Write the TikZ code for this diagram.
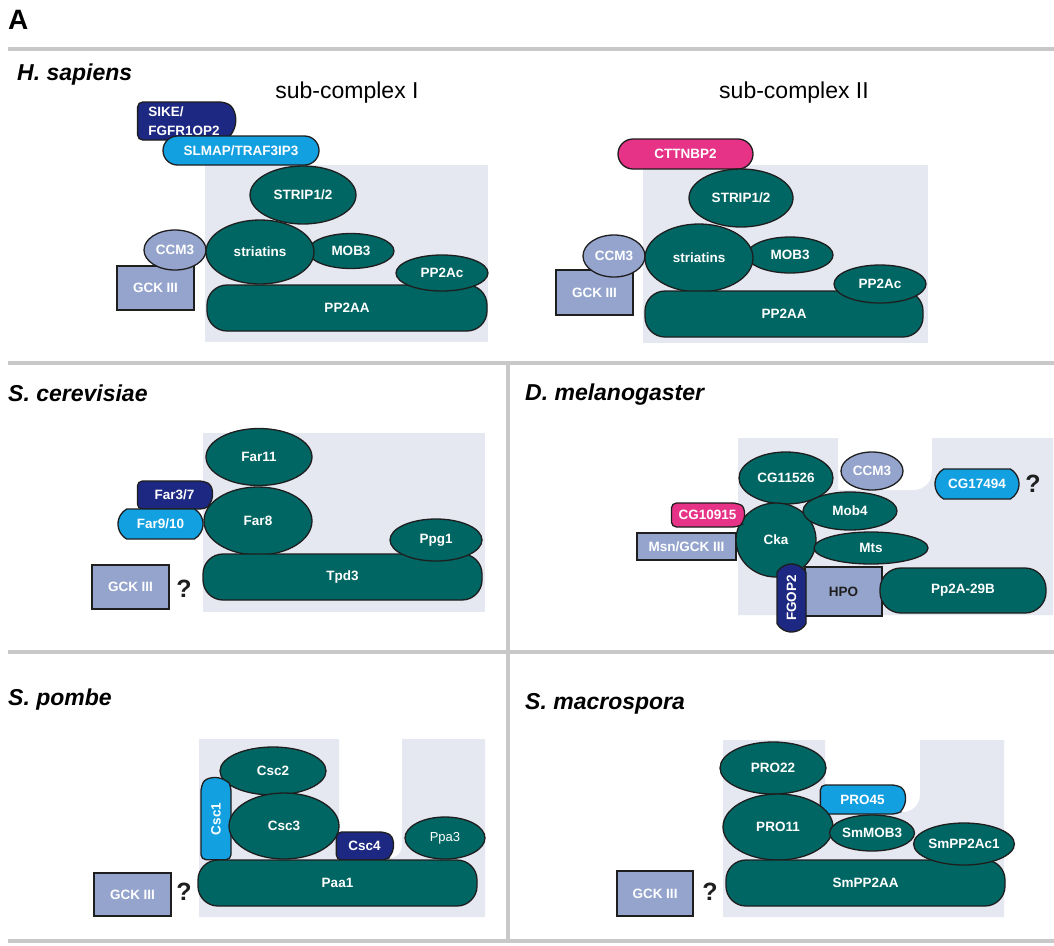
\documentclass[tikz,border=0pt]{standalone}
\usepackage{fontspec}
\setmainfont{Liberation Sans}
\usetikzlibrary{shapes.geometric,shapes.misc}
\definecolor{cTeal}{RGB}{0,102,99}
\definecolor{cNavy}{RGB}{28,40,130}
\definecolor{cSky}{RGB}{18,160,225}
\definecolor{cPink}{RGB}{230,50,135}
\definecolor{cSteel}{RGB}{148,164,204}
\definecolor{cBg}{RGB}{229,231,241}
\definecolor{cLine}{RGB}{200,200,200}
\definecolor{cOut}{RGB}{30,30,30}
\tikzset{
  prot/.style={draw=cOut, line width=1.3pt, text=white, font=\fontsize{13.5}{18.5}\selectfont\bfseries, inner sep=0pt, outer sep=0pt},
  te/.style={prot, ellipse, fill=cTeal},
  se/.style={prot, ellipse, fill=cSteel},
  bar/.style={prot, rectangle, fill=cTeal, rounded corners=20pt},
  gck/.style={prot, rectangle, fill=cSteel},
  stad/.style={prot, rounded rectangle},
  capr/.style={prot, rounded rectangle, rounded rectangle west arc=none, rounded rectangle arc length=120, rounded corners=5pt},
  twoarc/.style={prot, rounded rectangle, rounded rectangle arc length=120},
  qmark/.style={font=\fontsize{25}{28}\selectfont\bfseries, text=cOut, inner sep=0pt},
  species/.style={anchor=base west, font=\fontsize{23}{26}\selectfont\bfseries\itshape, inner sep=0pt},
  subc/.style={anchor=base, font=\fontsize{23}{26}\selectfont, inner sep=0pt},
  panel/.style={line width=4pt, cLine},
  bgarea/.style={fill=cBg}
}
\begin{document}
\begin{tikzpicture}[x=1pt,y=-1pt]
\useasboundingbox (0,0) rectangle (1054,945);
\fill[white] (0,0) rectangle (1054,945);

% panel lines
\draw[panel] (8,49) -- (1054,49);
\draw[panel] (8,363) -- (1054,363);
\draw[panel] (8,652) -- (1054,652);
\draw[panel] (8,941) -- (1054,941);
\draw[panel] (508,363) -- (508,941);

% titles
\node[anchor=base west, font=\fontsize{28}{30}\selectfont\bfseries, inner sep=0pt] (A) at (8,29) {A};
\node[species] (hs) at (17,80) {H. sapiens};
\node[subc] (sc1) at (347,98) {sub-complex I};
\node[subc] (sc2) at (794,98) {sub-complex II};
\node[species] (sce) at (8,401) {S. cerevisiae};
\node[species] (dm) at (525,400) {D. melanogaster};
\node[species] (sp) at (8,705) {S. pombe};
\node[species] (sm) at (525,709) {S. macrospora};

% ---------- sub-complex I ----------
\fill[bgarea] (205,165) rectangle (488,342);
\node[capr, fill=cNavy, minimum width=98, minimum height=38, align=left] (sike) at (184,121) {SIKE/\\FGFR1OP2};
\node[stad, fill=cSky, minimum width=156, minimum height=29] (slmap) at (241,150.5) {SLMAP/TRAF3IP3};
\node[gck, minimum width=77, minimum height=44] (gck1) at (155.5,288) {GCK III};
\node[se, minimum width=62, minimum height=40] (ccm1) at (175,250) {CCM3};
\node[te, minimum width=86, minimum height=35] (mob1) at (351,251) {MOB3};
\node[te, minimum width=108, minimum height=64] (str1) at (260,252) {striatins};
\node[te, minimum width=106, minimum height=58] (strip1) at (303,195) {STRIP1/2};
\node[bar, minimum width=280, minimum height=46] (aa1) at (347,308) {PP2AA};
\node[te, minimum width=92, minimum height=36] (ac1) at (442,273) {PP2Ac};

% ---------- sub-complex II ----------
\fill[bgarea] (643,165) rectangle (928,343);
\node[stad, fill=cPink, minimum width=135, minimum height=30] (cttn) at (685.5,154) {CTTNBP2};
\node[gck, minimum width=77, minimum height=45] (gck2) at (594.5,292.5) {GCK III};
\node[se, minimum width=62, minimum height=42] (ccm2) at (614,256) {CCM3};
\node[te, minimum width=86, minimum height=36] (mob2) at (790,255) {MOB3};
\node[te, minimum width=108, minimum height=68] (str2) at (699,258) {striatins};
\node[te, minimum width=104, minimum height=58] (strip2) at (741,198) {STRIP1/2};
\node[bar, minimum width=278, minimum height=46] (aa2) at (784,314) {PP2AA};
\node[te, minimum width=92, minimum height=38] (ac2) at (880,284) {PP2Ac};

% ---------- S. cerevisiae ----------
\fill[bgarea] (203,433) rectangle (485,612);
\node[capr, fill=cNavy, minimum width=75, minimum height=28] (far37) at (174.5,495) {Far3/7};
\node[twoarc, fill=cSky, minimum width=85, minimum height=30] (far910) at (160.5,524) {Far9/10};
\node[te, minimum width=106, minimum height=57] (far11) at (259,457) {Far11};
\node[te, minimum width=108, minimum height=68] (far8) at (258,521) {Far8};
\node[bar, minimum width=279, minimum height=46] (tpd3) at (342.5,577) {Tpd3};
\node[te, minimum width=92, minimum height=42] (ppg1) at (436,540) {Ppg1};
\node[gck, minimum width=77, minimum height=44] (gck3) at (130.5,587) {GCK III};
\node[qmark] (q3) at (184,589) {?};

% ---------- D. melanogaster ----------
\fill[bgarea] (738,438) -- (838,438) -- (838,490) -- (914,490)
  arc[start angle=90, end angle=0, radius=18] -- (932,438) -- (1053,438)
  -- (1053,615) -- (738,615) -- cycle;
\node[gck, minimum width=99, minimum height=27] (msn) at (686.5,546.5) {Msn/GCK III};
\node[te, minimum width=94, minimum height=52] (cg11526) at (786,478) {CG11526};
\node[se, minimum width=62, minimum height=38] (ccm4) at (872,471) {CCM3};
\node[te, minimum width=80, minimum height=74] (cka) at (776,540) {Cka};
\node[capr, fill=cPink, minimum width=73, minimum height=24] (cg10915) at (707.5,515) {CG10915};
\node[te, minimum width=94, minimum height=38] (mob4) at (850,511) {Mob4};
\node[te, minimum width=114, minimum height=32] (mts) at (871,548) {Mts};
\node[gck, text=cOut, minimum width=77, minimum height=49] (hpo) at (843.5,591.5) {HPO};
\node[twoarc, fill=cNavy, rotate=90, minimum width=68, minimum height=29] (fgop2) at (791.5,598) {FGOP2};
\node[bar, rounded corners=21pt, minimum width=166, minimum height=45] (pp2a29b) at (963,590.5) {Pp2A-29B};
\node[twoarc, fill=cSky, minimum width=84, minimum height=30] (cg17494) at (977,484) {CG17494};
\node[qmark] (q4) at (1033,484) {?};

% ---------- S. pombe ----------
\fill[bgarea] (199,739) -- (339,739) -- (339,858) -- (390,858)
  arc[start angle=90, end angle=0, radius=12] -- (402,739) -- (485,739)
  -- (485,917) -- (199,917) -- cycle;
\node[te, minimum width=106, minimum height=48] (csc2) at (273,771) {Csc2};
\node[capr, fill=cSky, rotate=90, minimum width=82, minimum height=30] (csc1) at (216,819) {Csc1};
\node[te, minimum width=110, minimum height=66] (csc3) at (284,826) {Csc3};
\node[capr, fill=cNavy, minimum width=57, minimum height=28] (csc4) at (364.5,846) {Csc4};
\node[te, font=\fontsize{13}{15}\selectfont, minimum width=80, minimum height=42] (ppa3) at (445,838) {Ppa3};
\node[bar, minimum width=279, minimum height=46] (paa1) at (337.5,883) {Paa1};
\node[gck, minimum width=77, minimum height=43] (gck5) at (132.5,894.5) {GCK III};
\node[qmark] (q5) at (184,892) {?};

% ---------- S. macrospora ----------
\fill[bgarea] (723,740) -- (825,740) -- (825,812) -- (903,812)
  arc[start angle=90, end angle=0, radius=17] -- (920,740) -- (1004,740)
  -- (1004,917) -- (723,917) -- cycle;
\node[te, minimum width=106, minimum height=52] (pro22) at (773,768) {PRO22};
\node[capr, fill=cSky, minimum width=85, minimum height=29] (pro45) at (862.5,799.5) {PRO45};
\node[te, minimum width=110, minimum height=66] (pro11) at (778,827) {PRO11};
\node[te, minimum width=82, minimum height=36] (smmob3) at (872,833) {SmMOB3};
\node[bar, minimum width=279, minimum height=46] (smaa) at (865.5,883) {SmPP2AA};
\node[te, minimum width=86, minimum height=42] (smac1) at (964,844) {SmPP2Ac1};
\node[gck, minimum width=76, minimum height=45] (gck6) at (655,893.5) {GCK III};
\node[qmark] (q6) at (710,892) {?};
\end{tikzpicture}
\end{document}
